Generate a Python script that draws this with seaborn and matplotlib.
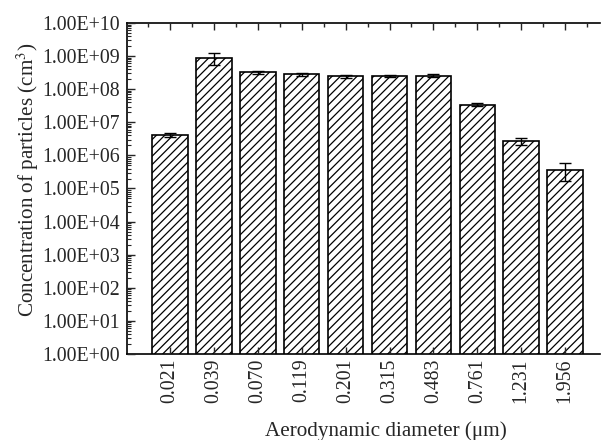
import numpy as np
import pandas as pd
import matplotlib
matplotlib.use("Agg")
import matplotlib.pyplot as plt
import seaborn as sns
from matplotlib.ticker import LogLocator, FixedLocator, NullFormatter, FuncFormatter

categories = ["0.021", "0.039", "0.070", "0.119", "0.201", "0.315", "0.483", "0.761", "1.231", "1.956"]
values = [4.2e6, 8.7e8, 3.2e8, 2.8e8, 2.45e8, 2.56e8, 2.58e8, 3.4e7, 2.66e6, 3.7e5]
errors = [0.7e6, 3.4e8, 2.5e7, 2.5e7, 2.5e7, 2.0e7, 2.2e7, 3.5e6, 0.6e6, 2.0e5]

sns.set_style("white")
plt.rcParams['font.family'] = ['Liberation Serif', 'DejaVu Serif']
plt.rcParams['hatch.linewidth'] = 0.9
plt.rcParams['mathtext.fontset'] = 'stix'

df = pd.DataFrame({"d": categories, "c": values})

fig = plt.figure(figsize=(6.02, 4.40), dpi=100)
ax = fig.add_axes([0.211, 0.1955, 0.786, 0.7522])

sns.barplot(data=df, x="d", y="c", ax=ax, color="white", edgecolor="black",
            linewidth=1.2, hatch="////", width=0.81, errorbar=None, log_scale=(False, True))
for p in ax.patches:
    p.set_facecolor("white")
    p.set_edgecolor("black")
    p.set_hatch("////")

ax.errorbar(np.arange(len(values)), values, yerr=errors, fmt="none", ecolor="black",
            elinewidth=1.0, capsize=4, capthick=1.0, zorder=5)

ax.set_yscale("log")
ax.set_ylim(1, 1e10)
ax.set_xlim(-0.98, 9.8)
ax.set_axisbelow(False)

ax.yaxis.set_major_locator(LogLocator(base=10, numticks=20))
ax.yaxis.set_minor_locator(LogLocator(base=10, subs=np.arange(2, 10), numticks=200))
ax.yaxis.set_minor_formatter(NullFormatter())
ax.yaxis.set_major_formatter(FuncFormatter(lambda v, pos: "1.00E+%02d" % int(round(np.log10(v)))))

ax.set_xticks(range(len(categories)))
ax.set_xticklabels(categories, rotation=90)
ax.xaxis.set_minor_locator(FixedLocator(np.arange(-0.5, 10, 1.0)))

ax.tick_params(axis="y", which="major", direction="in", length=6, width=1.0, labelsize=14.3, left=True, right=False, pad=5)
ax.tick_params(axis="y", which="minor", direction="in", length=3, width=0.8, left=True, right=False)
ax.tick_params(axis="x", which="major", direction="in", length=5, width=1.0, labelsize=14.3, bottom=True, top=True, pad=3.5)
ax.tick_params(axis="x", which="minor", direction="in", length=3, width=1.0, bottom=False, top=True)

for side in ["left", "bottom", "top"]:
    ax.spines[side].set_visible(True)
    ax.spines[side].set_color("black")
    ax.spines[side].set_linewidth(1.2)
ax.spines["right"].set_visible(False)

ax.set_xlabel("Aerodynamic diameter (μm)", fontsize=15.2)
ax.set_ylabel("Concentration of particles (cm$^{3}$)", fontsize=15.2)
ax.xaxis.set_label_coords(0.548, -0.233)
ax.xaxis.label.set_va("center")
ax.yaxis.set_label_coords(-0.21, 0.526)
ax.yaxis.label.set_va("center")

fig.savefig("out.png", dpi=100)
